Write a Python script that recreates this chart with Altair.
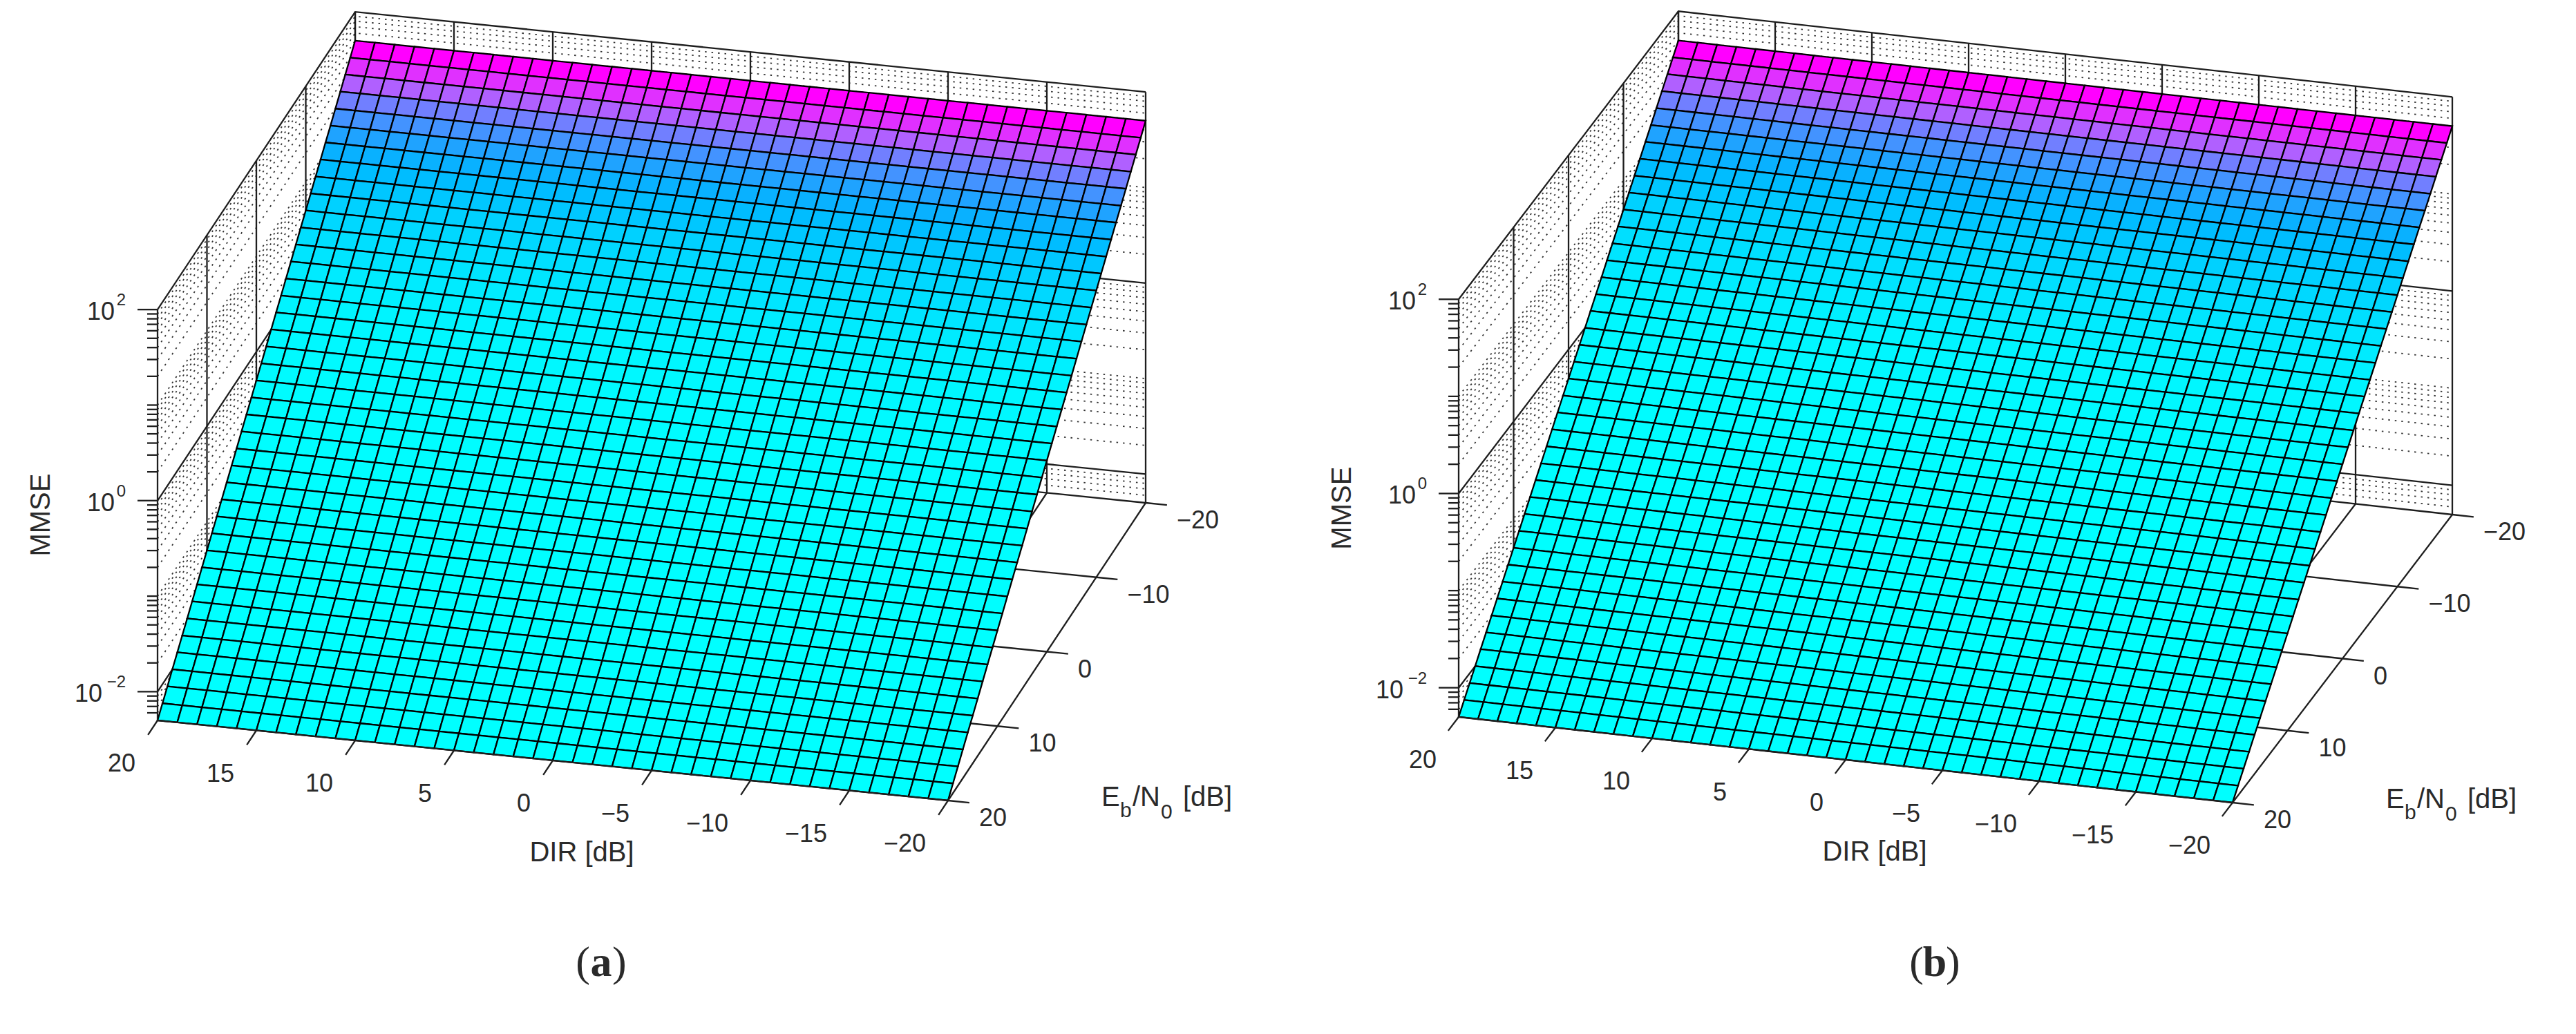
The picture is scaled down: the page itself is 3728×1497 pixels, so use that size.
import math
import altair as alt

# ---------------- values ----------------
DIR_DB = list(range(20, -21, -1))     # DIR grid nodes [dB], 40 cells
EBN0_DB = list(range(-20, 21))        # Eb/N0 grid nodes [dB], 40 cells

# MMSE read along Eb/N0 = -20 ... 20 dB (surface is flat along DIR)
MMSE_A = [50.0, 39.7, 31.6, 25.1, 19.9, 15.8, 12.6, 10.0, 7.94, 6.31,
          5.01, 3.98, 3.16, 2.51, 1.99, 1.58, 1.26, 1.0, 0.794, 0.631,
          0.501, 0.398, 0.316, 0.251, 0.199, 0.158, 0.126, 0.1, 0.0794, 0.0631,
          0.0501, 0.0398, 0.0316, 0.0251, 0.0199, 0.0158, 0.0126, 0.01, 0.00794, 0.00631,
          0.00501]
MMSE_B = [50.0, 39.7, 31.6, 25.1, 19.9, 15.8, 12.6, 10.0, 7.94, 6.31,
          5.01, 3.98, 3.16, 2.51, 1.99, 1.58, 1.26, 1.0, 0.794, 0.631,
          0.501, 0.398, 0.316, 0.251, 0.199, 0.158, 0.126, 0.1, 0.0794, 0.0631,
          0.0501, 0.0398, 0.0316, 0.0251, 0.0199, 0.0158, 0.0126, 0.01, 0.00794, 0.00631,
          0.00501]

DIR_TICKS = [20, 15, 10, 5, 0, -5, -10, -15, -20]
EB_TICKS = [-20, -10, 0, 10, 20]
Z_MAJOR = [0.01, 1.0, 100.0]
Z_MAJOR_EXP = ["\u22122", "0", "2"]
Z_MIN, Z_MAX = 0.005, 100.0
PANEL_LABELS = ["a", "b"]
DIR_TITLE = "DIR [dB]"
Z_TITLE = "MMSE"

# palette (cell mean MMSE -> colour)
COLOR_DOMAIN = [0, 1.2, 2.5, 4.5, 7, 10, 13, 17, 22.4, 28.3, 35.6, 44.9, 50]
COLOR_RANGE = ["#00ffff", "#00f6ff", "#00e8ff", "#00d8ff", "#00c8ff", "#00b8ff", "#14a8ff",
               "#3a96ff", "#7080ff", "#b060ff", "#e030ff", "#ff00ff", "#ff00ff"]

# ---------------- camera / layout settings (style) ----------------
VIEWS = [
    dict(origin=(228, 1043), dir_vec=(1144, 116), eb_vec=(286, -431), decade=138.3, caption=(870, 1394)),
    dict(origin=(2111, 1038), dir_vec=(1120, 124), eb_vec=(318, -417), decade=140.6, caption=(2800, 1394)),
]
MARGIN = 8
W, H = 3712, 1481
FONT = "Liberation Sans"
SERIF = "Liberation Serif"
TXT = "#2a2a2a"


def project(view, dir_db, eb_db, z):
    d = (20.0 - dir_db) / 40.0
    e = (20.0 - eb_db) / 40.0
    h = math.log10(z) - math.log10(Z_MIN)
    ox, oy = view["origin"]
    dvx, dvy = view["dir_vec"]
    evx, evy = view["eb_vec"]
    x = ox + d * dvx + e * evx - MARGIN
    y = oy + d * dvy + e * evy - h * view["decade"] - MARGIN
    return [round(x, 2), round(y, 2)]


def unit(v):
    n = math.hypot(v[0], v[1])
    return (v[0] / n, v[1] / n)


def line(coords):
    return {"type": "Feature", "properties": {},
            "geometry": {"type": "LineString", "coordinates": coords}}


def fmt(v):
    return ("\u2212" + str(-v)) if v < 0 else str(v)


Z_MINOR = []
for n in range(-3, 2):
    for k in range(1, 10):
        val = k * 10.0 ** n
        if Z_MIN * 1.0001 < val <= Z_MAX and all(abs(val - m) > 1e-9 for m in Z_MAJOR):
            Z_MINOR.append(val)

cells, dotted, back_solid, front_solid = [], [], [], []
txt_right, txt_left, txt_exp, txt_title, txt_rot = [], [], [], [], []
sub_left, cap_left, paren_l, paren_r, cap_bold = [], [], [], [], []

for view, mm, label in zip(VIEWS, [MMSE_A, MMSE_B], PANEL_LABELS):
    P = lambda a, b, c: project(view, a, b, c)
    # surface cells
    for i in range(len(DIR_DB) - 1):
        for j in range(len(EBN0_DB) - 1):
            d0, d1 = DIR_DB[i], DIR_DB[i + 1]
            e0, e1 = EBN0_DB[j], EBN0_DB[j + 1]
            z0, z1 = mm[j], mm[j + 1]
            ring = [P(d0, e0, z0), P(d1, e0, z0), P(d1, e1, z1), P(d0, e1, z1), P(d0, e0, z0)]
            cells.append({"type": "Feature", "properties": {"mmse": (z0 + z1) / 2.0},
                          "geometry": {"type": "Polygon", "coordinates": [ring]}})
    # wall grids (left wall DIR=20, back wall Eb=-20)
    for z in Z_MINOR:
        dotted.append(line([P(20, 20, z), P(20, -20, z), P(-20, -20, z)]))
    for z in Z_MAJOR:
        back_solid.append(line([P(20, 20, z), P(20, -20, z), P(-20, -20, z)]))
    for eb in [10, 0, -10, -20]:
        back_solid.append(line([P(20, eb, Z_MIN), P(20, eb, Z_MAX)]))
    for dd in DIR_TICKS:
        back_solid.append(line([P(dd, -20, Z_MIN), P(dd, -20, Z_MAX)]))
    # base grid
    for eb in [-20, -10, 0, 10]:
        back_solid.append(line([P(20, eb, Z_MIN), P(-20, eb, Z_MIN)]))
    for dd in DIR_TICKS[:-1]:
        back_solid.append(line([P(dd, 20, Z_MIN), P(dd, -20, Z_MIN)]))
    # front axes
    front_solid.append(line([P(20, 20, Z_MIN), P(-20, 20, Z_MIN)]))
    front_solid.append(line([P(-20, 20, Z_MIN), P(-20, -20, Z_MIN)]))
    front_solid.append(line([P(20, 20, Z_MIN), P(20, 20, Z_MAX)]))
    ue = unit(view["eb_vec"])
    ud = unit(view["dir_vec"])
    for dd in DIR_TICKS:
        p = P(dd, 20, Z_MIN)
        front_solid.append(line([p, [p[0] - 25 * ue[0], p[1] - 25 * ue[1]]]))
        txt_right.append({"x": p[0] - 32, "y": p[1] + 63, "t": fmt(dd)})
    for eb in EB_TICKS:
        p = P(-20, eb, Z_MIN)
        front_solid.append(line([p, [p[0] + 31 * ud[0], p[1] + 31 * ud[1]]]))
        txt_left.append({"x": p[0] + 45, "y": p[1] + 26, "t": fmt(eb)})
    for z in Z_MINOR:
        p = P(20, 20, z)
        front_solid.append(line([p, [p[0] - 15, p[1]]]))
    for z, ex in zip(Z_MAJOR, Z_MAJOR_EXP):
        p = P(20, 20, z)
        front_solid.append(line([p, [p[0] - 29, p[1]]]))
        wexp = 32 if len(ex) > 1 else 14
        txt_right.append({"x": p[0] - 46 - wexp - 2, "y": p[1] + 4, "t": "10"})
        txt_exp.append({"x": p[0] - 46, "y": p[1] - 13, "t": ex})
    # titles
    p0 = P(0, 20, Z_MIN)
    txt_title.append({"x": p0[0] + 42, "y": p0[1] + 134, "t": DIR_TITLE})
    pb, pt = P(20, 20, Z_MIN), P(20, 20, Z_MAX)
    txt_rot.append({"x": pb[0] - 168, "y": (pb[1] + pt[1]) / 2, "t": Z_TITLE})
    pe = P(-20, 20, Z_MIN)
    sx, sy = pe[0] + 222, pe[1] - 4
    cap_left.append({"x": sx, "y": sy, "t": "E"})
    sub_left.append({"x": sx + 27, "y": sy + 19, "t": "b"})
    cap_left.append({"x": sx + 45, "y": sy, "t": "/N"})
    sub_left.append({"x": sx + 86, "y": sy + 21, "t": "0"})
    cap_left.append({"x": sx + 118, "y": sy, "t": "[dB]"})
    # caption
    cx, cy = view["caption"][0] - MARGIN, view["caption"][1] - MARGIN
    paren_l.append({"x": cx - 16, "y": cy, "t": "("})
    cap_bold.append({"x": cx, "y": cy, "t": label})
    paren_r.append({"x": cx + 16, "y": cy, "t": ")"})

PROJ = dict(type="identity", scale=1, translate=[0, 0])


def geo(features, **mark):
    return alt.Chart(alt.InlineData(values=features)).mark_geoshape(**mark).project(**PROJ)


def text(rows, **mark):
    return (alt.Chart(alt.InlineData(values=rows))
            .mark_text(baseline="middle", color=TXT, **mark)
            .encode(longitude="x:Q", latitude="y:Q", text="t:N")
            .project(**PROJ))


layers = [
    geo(dotted, filled=False, stroke="#333333", strokeWidth=1.8, strokeDash=[2.5, 7]),
    geo(back_solid, filled=False, stroke="#1e1e1e", strokeWidth=2.3),
    geo(cells, stroke="#000000", strokeWidth=2.3).encode(
        color=alt.Color("properties.mmse:Q",
                        scale=alt.Scale(domain=COLOR_DOMAIN, range=COLOR_RANGE, interpolate="rgb"),
                        legend=None)),
    geo(front_solid, filled=False, stroke="#1e1e1e", strokeWidth=2.3),
    text(txt_right, align="right", font=FONT, fontSize=36),
    text(txt_left, align="left", font=FONT, fontSize=36),
    text(txt_exp, align="right", font=FONT, fontSize=24),
    text(txt_title, align="center", font=FONT, fontSize=40),
    text(txt_rot, align="center", font=FONT, fontSize=40, angle=270),
    text(cap_left, align="left", font=FONT, fontSize=40),
    text(sub_left, align="left", font=FONT, fontSize=30),
    text(paren_l, align="right", font=SERIF, fontSize=62),
    text(paren_r, align="left", font=SERIF, fontSize=62),
    text(cap_bold, align="center", font=SERIF, fontSize=62, fontWeight="bold"),
]

chart = (alt.layer(*layers)
         .properties(width=W, height=H, padding=0, background="white",
                     autosize=alt.AutoSizeParams(type="none"))
         .configure_view(stroke=None))

chart.save("out.html", embed_options={"renderer": "svg", "actions": False})
